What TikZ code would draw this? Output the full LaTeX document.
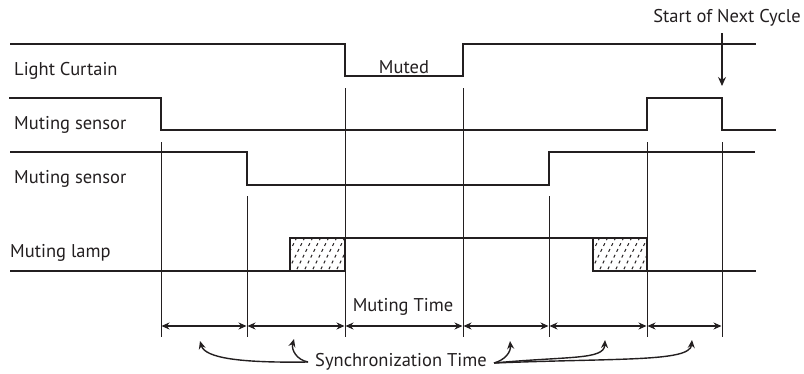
\documentclass[tikz,border=0pt]{standalone}
\usepackage{fontspec}
\setmainfont{PT Sans}
\usetikzlibrary{arrows.meta}
\definecolor{ink}{HTML}{231F20}
\begin{document}
\begin{tikzpicture}[x=1pt,y=-1pt,
  sig/.style={draw=ink,line width=2pt,line join=miter},
  guide/.style={draw=ink,line width=0.7pt},
  dim/.style={draw=ink,line width=1.2pt,{Stealth[length=8pt,width=7pt]}-{Stealth[length=8pt,width=7pt]}},
  callout/.style={draw=ink,line width=1.4pt,-{Stealth[length=8pt,width=7pt]}},
  lbl/.style={font=\fontsize{18.5}{20}\selectfont,text=ink,inner sep=0pt},
  hatch/.style={draw=ink,line width=1pt,dash pattern=on 3pt off 3.5pt}]
\useasboundingbox (0,0) rectangle (804,373);
% labels
\node[lbl,anchor=west] (lc) at (14,71) {Light Curtain};
\node[lbl,anchor=west] (ms1) at (14,125) {Muting sensor};
\node[lbl,anchor=west] (ms2) at (14,179) {Muting sensor};
\node[lbl,anchor=west] (ml) at (10,253) {Muting lamp};
\node[lbl] (muted) at (404,67) {Muted};
\node[lbl] (mtime) at (403,307) {Muting Time};
\node[lbl] (sync) at (401,362) {Synchronization Time};
\node[lbl] (next) at (727,18) {Start of Next Cycle};
% signals
\draw[sig] (10,44) -- (345,44) -- (345,76) -- (463,76) -- (463,44) -- (756,44);
\draw[sig] (9,98) -- (161,98) -- (161,130) -- (647,130) -- (647,98) -- (722,98) -- (722,130) -- (776,130);
\draw[sig] (10,152) -- (247,152) -- (247,185) -- (549,185) -- (549,152) -- (755,152);
% hatched boxes
\begin{scope}
\clip (290,238) rectangle (345,271);
\foreach \i in {0,...,14} \draw[hatch] (270+\i*8,275) -- (290+\i*8,235);
\end{scope}
\begin{scope}
\clip (593,238) rectangle (647,271);
\foreach \i in {0,...,14} \draw[hatch] (573+\i*8,275) -- (593+\i*8,235);
\end{scope}
\draw[sig] (10,271) -- (290,271) -- (290,238) -- (345,238) -- (345,271) -- cycle;
\draw[sig] (345,238) -- (593,238) -- (593,271) -- (647,271) -- (647,238) -- cycle;
\draw[sig] (647,271) -- (756,271);
% guides
\coordinate (g1t) at (161,142); \coordinate (g1b) at (161,337);
\coordinate (g2t) at (247,196); \coordinate (g2b) at (247,337);
\coordinate (g3t) at (345,88);  \coordinate (g3b) at (345,337);
\coordinate (g4t) at (463,88);  \coordinate (g4b) at (463,337);
\coordinate (g5t) at (549,196); \coordinate (g5b) at (549,337);
\coordinate (g6t) at (647,142); \coordinate (g6b) at (647,337);
\coordinate (g7t) at (722,142); \coordinate (g7b) at (722,337);
\foreach \g in {1,...,7} \draw[guide] (g\g t) -- (g\g b);
% dimension arrows
\foreach \a/\b in {161/247,247/345,345/463,463/549,549/647,647/722}
  \draw[dim] (\a+0.5,326) -- (\b-0.5,326);
% next cycle arrow
\coordinate (nct) at (722,33);
\coordinate (nc) at (722,86);
\draw[callout,line width=1.1pt,-{Stealth[length=9pt,width=8pt]}] (nct) -- (nc);
% sync callouts
\coordinate (sl) at (308,362);
\coordinate (sr) at (494,363);
\draw[callout] (sl) .. controls (240,363) and (205,358) .. (200,341);
\draw[callout] (sl) .. controls (297,360) and (291,350) .. (294,339);
\draw[callout] (sr) .. controls (505,360) and (511,352) .. (510,341);
\draw[callout] (sr) .. controls (570,356) and (604,360) .. (605,340);
\draw[callout] (sr) .. controls (620,358) and (690,362) .. (692,340);
\end{tikzpicture}
\end{document}
